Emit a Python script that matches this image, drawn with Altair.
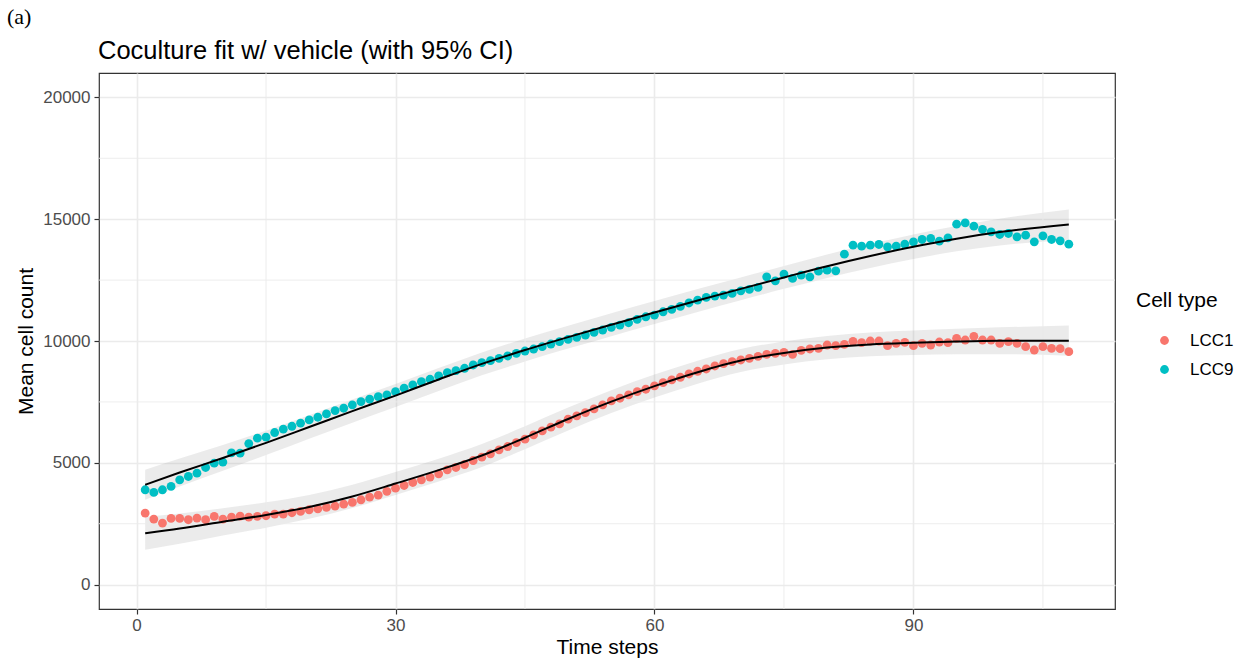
import altair as alt
import pandas as pd

# ---------------- data ----------------
time_steps = list(range(1, 109))

lcc1 = [2938, 2692, 2528, 2718, 2718, 2664, 2732, 2664, 2800, 2692,
        2773, 2814, 2773, 2800, 2828, 2897, 2897, 2951, 3005, 3073,
        3114, 3169, 3224, 3306, 3374, 3483, 3593, 3675, 3830, 3960,
        4070, 4193, 4303, 4413, 4549, 4713, 4808, 4930, 5094, 5233,
        5368, 5532, 5669, 5832, 5971, 6147, 6311, 6462, 6598, 6790,
        6926, 7061, 7212, 7376, 7540, 7651, 7786, 7922, 8020, 8155,
        8290, 8401, 8511, 8647, 8757, 8852, 8975, 9069, 9151, 9221,
        9290, 9372, 9454, 9495, 9536, 9454, 9618, 9672, 9700, 9835,
        9807, 9863, 9986, 9930, 9999, 9999, 9807, 9904, 9945, 9807,
        9904, 9835, 9958, 9930, 10110, 10040, 10192, 10040, 10040, 9904,
        9972, 9904, 9766, 9630, 9766, 9700, 9685, 9562]

lcc9 = [3893, 3784, 3893, 4030, 4303, 4440, 4576, 4808, 4986, 5030,
        5410, 5400, 5790, 6011, 6052, 6243, 6380, 6500, 6626, 6762,
        6871, 7008, 7143, 7241, 7376, 7512, 7610, 7717, 7790, 7922,
        8061, 8196, 8331, 8430, 8565, 8700, 8782, 8880, 9016, 9110,
        9192, 9290, 9385, 9495, 9589, 9671, 9766, 9876, 9971, 10069,
        10151, 10245, 10356, 10450, 10560, 10655, 10749, 10889, 10995, 11065,
        11200, 11298, 11420, 11560, 11680, 11790, 11843, 11884, 11954, 12060,
        12118, 12200, 12634, 12470, 12745, 12569, 12704, 12634, 12867, 12909,
        12880, 13564, 13933, 13892, 13933, 13962, 13865, 13892, 13974, 14069,
        14167, 14208, 14097, 14232, 14794, 14847, 14712, 14577, 14480, 14372,
        14413, 14274, 14343, 14069, 14315, 14167, 14110, 13974]

cell_types = ["LCC1", "LCC9"]
cell_colors = ["#F8766D", "#00BFC4"]

fit_steps = [1, 5, 10, 15, 20, 25, 30, 35, 40, 45, 50, 55, 60, 65, 70, 75, 80, 85, 90, 95, 100, 108]
lcc1_fit = [2110, 2300, 2580, 2860, 3190, 3620, 4150, 4700, 5300, 6030, 6800,
            7510, 8150, 8720, 9200, 9510, 9730, 9860, 9930, 9980, 10010, 10015]
lcc1_ci = [680, 620, 560, 520, 490, 475, 470, 470, 470, 470, 470,
           470, 470, 470, 470, 470, 480, 490, 500, 520, 550, 620]
lcc9_fit = [4100, 4600, 5200, 5820, 6470, 7120, 7760, 8420, 9060, 9630, 10160,
            10670, 11170, 11660, 12140, 12610, 13070, 13490, 13870, 14200, 14470, 14780]
lcc9_ci = [620, 575, 530, 500, 480, 475, 470, 470, 470, 470, 470,
           470, 470, 470, 470, 470, 480, 490, 500, 520, 550, 620]

x_ticks = [0, 30, 60, 90]
x_minor = [15, 45, 75, 105]
y_ticks = [0, 5000, 10000, 15000, 20000]
y_minor = [2500, 7500, 12500, 17500]

title_text = "Coculture fit w/ vehicle (with 95% CI)"
panel_label = "(a)"
x_title = "Time steps"
y_title = "Mean cell count"
legend_title = "Cell type"

# ---------------- tables ----------------
pts = pd.DataFrame({
    "t": time_steps + time_steps,
    "count": lcc1 + lcc9,
    "type": [cell_types[0]] * len(lcc1) + [cell_types[1]] * len(lcc9),
})

fit = pd.DataFrame({
    "t": fit_steps + fit_steps,
    "fit": lcc1_fit + lcc9_fit,
    "lo": [f - c for f, c in zip(lcc1_fit, lcc1_ci)] + [f - c for f, c in zip(lcc9_fit, lcc9_ci)],
    "hi": [f + c for f, c in zip(lcc1_fit, lcc1_ci)] + [f + c for f, c in zip(lcc9_fit, lcc9_ci)],
    "type": [cell_types[0]] * len(fit_steps) + [cell_types[1]] * len(fit_steps),
})

xminor_df = pd.DataFrame({"v": x_minor})
yminor_df = pd.DataFrame({"v": y_minor})
label_df = pd.DataFrame({"label": [panel_label]})
title_df = pd.DataFrame({"label": [title_text]})

FONT = "Liberation Sans"
GRID = "#EBEBEB"

xscale = alt.Scale(domain=[-4.35, 113.35], nice=False, zero=False)
yscale = alt.Scale(domain=[-1000, 21000], nice=False, zero=False)

x_axis = alt.Axis(values=x_ticks, title=x_title, grid=True, gridColor=GRID, gridWidth=1.6,
                  domain=False, tickSize=5, tickColor="#333333", tickWidth=1.2,
                  labelColor="#4D4D4D", labelFontSize=17, labelFont=FONT, labelPadding=3,
                  titleFont=FONT, titleFontSize=21, titleFontWeight="normal",
                  titleColor="black", titlePadding=3)
y_axis = alt.Axis(values=y_ticks, title=y_title, format="d", grid=True, gridColor=GRID,
                  gridWidth=1.6, domain=False, tickSize=5, tickColor="#333333", tickWidth=1.2,
                  labelColor="#4D4D4D", labelFontSize=17, labelFont=FONT, labelPadding=4,
                  titleFont=FONT, titleFontSize=21, titleFontWeight="normal",
                  titleColor="black", titlePadding=6)

band = alt.Chart(fit).mark_area(color="#999999", opacity=0.2, interpolate="monotone").encode(
    x=alt.X("t:Q", scale=xscale, axis=x_axis),
    y=alt.Y("lo:Q", scale=yscale, axis=y_axis),
    y2="hi:Q",
    detail="type:N",
)

minor_x = alt.Chart(xminor_df).mark_rule(color=GRID, strokeWidth=0.9).encode(
    x=alt.X("v:Q", scale=xscale, axis=x_axis))
minor_y = alt.Chart(yminor_df).mark_rule(color=GRID, strokeWidth=0.9).encode(
    y=alt.Y("v:Q", scale=yscale, axis=y_axis))

points = alt.Chart(pts).mark_circle(size=78, opacity=1).encode(
    x=alt.X("t:Q", scale=xscale, axis=x_axis),
    y=alt.Y("count:Q", scale=yscale, axis=y_axis),
    color=alt.Color("type:N",
                    scale=alt.Scale(domain=cell_types, range=cell_colors),
                    legend=alt.Legend(title=legend_title, orient="none", legendX=1037, legendY=217,
                                      titleFont=FONT, titleFontSize=21, titleFontWeight="normal",
                                      titleColor="black", titlePadding=21,
                                      labelFont=FONT, labelFontSize=17, labelColor="black",
                                      symbolType="circle", symbolSize=78, symbolOffset=20,
                                      symbolStrokeWidth=0, labelOffset=17, rowPadding=11,
                                      padding=0)),
)

line = alt.Chart(fit).mark_line(color="black", strokeWidth=2, interpolate="monotone").encode(
    x=alt.X("t:Q", scale=xscale, axis=x_axis),
    y=alt.Y("fit:Q", scale=yscale, axis=y_axis),
    detail="type:N",
)

tag = alt.Chart(label_df).mark_text(font="Liberation Serif", fontSize=22, align="left",
                                    baseline="alphabetic", color="black").encode(
    x=alt.value(-92), y=alt.value(-49), text="label:N")

title = alt.Chart(title_df).mark_text(font=FONT, fontSize=25.5, align="left",
                                      baseline="alphabetic", color="black").encode(
    x=alt.value(-1), y=alt.value(-14), text="label:N")

chart = alt.layer(band, minor_x, minor_y, points, line, tag, title).properties(
    width=1016, height=536,
    padding={"left": 99, "top": 73, "right": 124, "bottom": 54},
    autosize=alt.AutoSizeParams(type="none"),
).configure(
    font=FONT, background="white",
    view=alt.ViewConfig(stroke="#333333", strokeWidth=1.2),
)

chart.save("out.html", embed_options={"renderer": "svg", "actions": False})
